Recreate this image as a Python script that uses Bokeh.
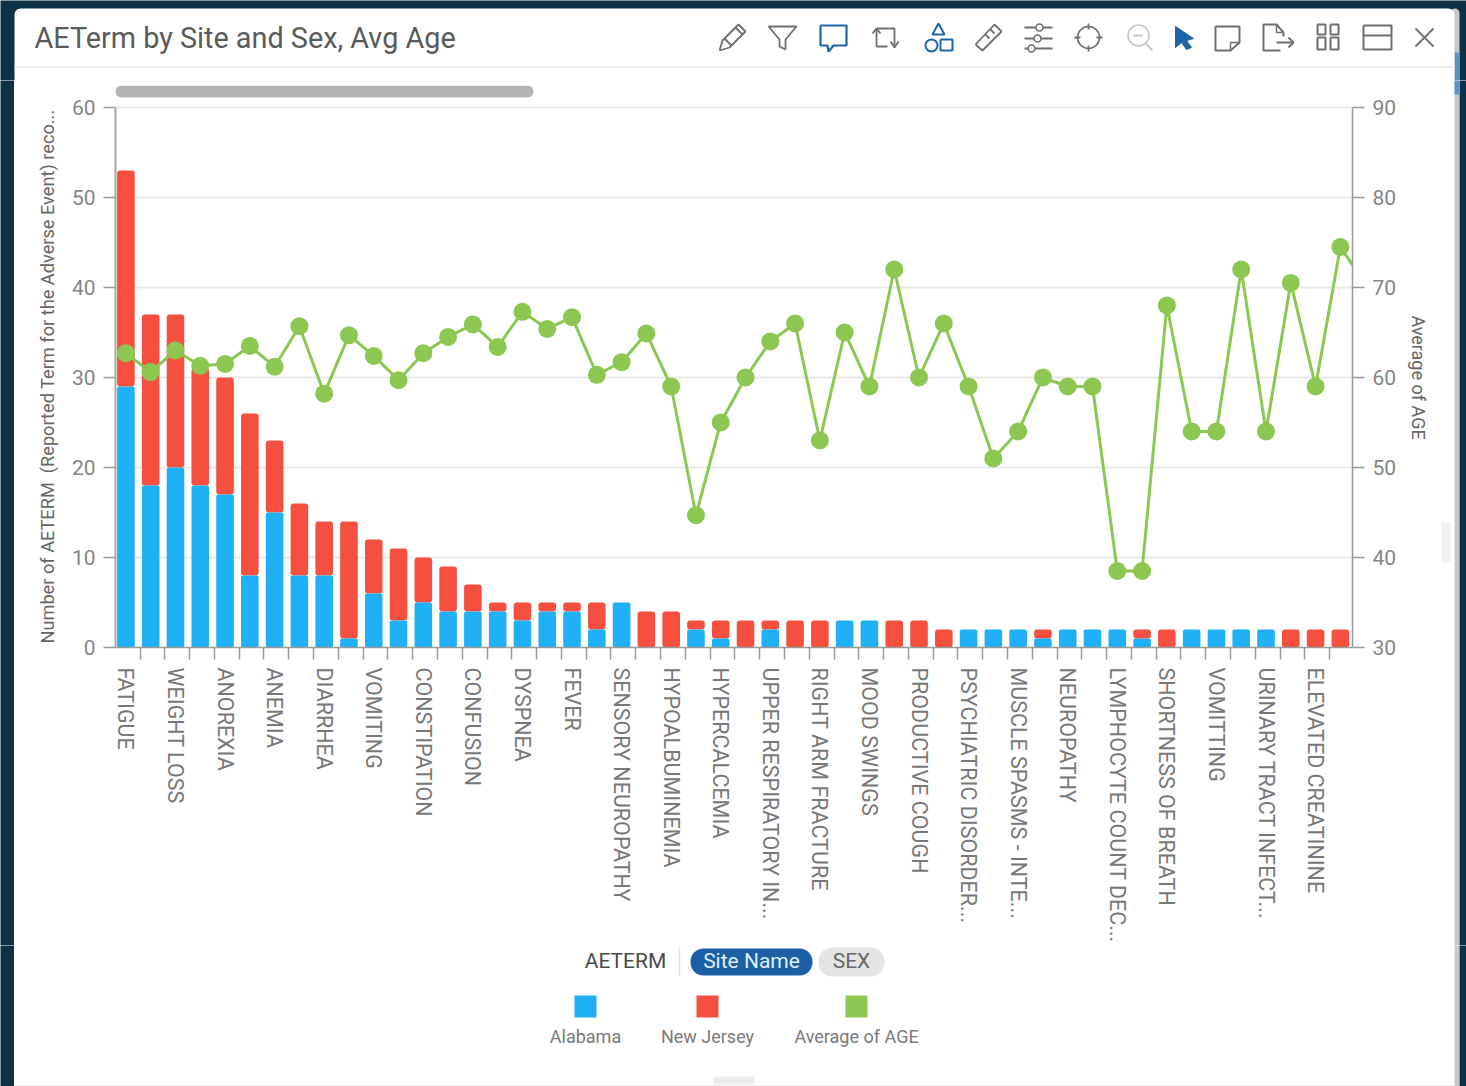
from bokeh.plotting import figure
from bokeh.layouts import column, row
from bokeh.models import Range1d, LinearAxis, FixedTicker
from bokeh.core.properties import value
from bokeh.embed import file_html
from bokeh.resources import INLINE

# ---- data ----
tick_labels = ["FATIGUE", "WEIGHT LOSS", "ANOREXIA", "ANEMIA", "DIARRHEA", "VOMITING", "CONSTIPATION",
               "CONFUSION", "DYSPNEA", "FEVER", "SENSORY NEUROPATHY", "HYPOALBUMINEMIA", "HYPERCALCEMIA",
               "UPPER RESPIRATORY IN...", "RIGHT ARM FRACTURE", "MOOD SWINGS", "PRODUCTIVE COUGH",
               "PSYCHIATRIC DISORDER...", "MUSCLE SPASMS - INTE...", "NEUROPATHY", "LYMPHOCYTE COUNT DEC...",
               "SHORTNESS OF BREATH", "VOMITTING", "URINARY TRACT INFECT...", "ELEVATED CREATININE"]
alabama = [29, 18, 20, 18, 17, 8, 15, 8, 8, 1, 6, 3, 5, 4, 4, 4, 3, 4, 4, 2, 5, 0, 0, 2, 1,
           0, 2, 0, 0, 3, 3, 0, 0, 0, 2, 2, 2, 1, 2, 2, 2, 1, 0, 2, 2, 2, 2, 0, 0, 0]
new_jersey = [24, 19, 17, 13, 13, 18, 8, 8, 6, 13, 6, 8, 5, 5, 3, 1, 2, 1, 1, 3, 0, 4, 4, 1, 2,
              3, 1, 3, 3, 0, 0, 3, 3, 2, 0, 0, 0, 1, 0, 0, 0, 1, 2, 0, 0, 0, 0, 2, 2, 2]
avg_age = [62.7, 60.6, 63.0, 61.3, 61.5, 63.5, 61.2, 65.7, 58.2, 64.7, 62.4, 59.7, 62.7, 64.5, 65.9,
           63.4, 67.3, 65.4, 66.7, 60.3, 61.7, 64.9, 59.0, 44.7, 55.0, 60.0, 64.0, 66.0, 53.0, 65.0,
           59.0, 72.0, 60.0, 66.0, 59.0, 51.0, 54.0, 60.0, 59.0, 59.0, 38.5, 38.5, 68.0, 54.0, 54.0,
           72.0, 54.0, 70.5, 59.0, 74.5, 70.4]
left_ticks = [0, 10, 20, 30, 40, 50, 60]
right_ticks = [30, 40, 50, 60, 70, 80, 90]
left_title = "Number of AETERM\u00a0 (Reported Term for the Adverse Event) reco..."
right_title = "Average of AGE"

BLUE, RED, GREEN = "#1fb0f5", "#f44f3f", "#8cc751"
DARK = "#0c3247"
STRIP = "#c9c9c9"
FONT = value("Roboto")


def chrome(x0, x1, y0, y1, bg=DARK):
    f = figure(width=x1 - x0, height=y1 - y0, x_range=Range1d(x0, x1), y_range=Range1d(y1, y0),
               output_backend="svg", toolbar_location=None, min_border=0, frame_align=False,
               background_fill_color=bg, border_fill_color=bg, outline_line_color=None)
    f.axis.visible = False
    f.grid.visible = False
    return f


# ---- header ----
TOP = 80
h = chrome(0, 1466, 0, TOP)
h.quad(left=[1450], right=[1459], top=[8], bottom=[TOP + 4], fill_color=STRIP, line_color=None,
       border_radius=(6, 6, 0, 0))
h.quad(left=[1454], right=[1459], top=[52], bottom=[TOP + 4], fill_color="#5b93c7", line_color=None)
h.quad(left=[14], right=[1454], top=[8], bottom=[TOP + 4], fill_color="white", line_color=None,
       border_radius=(6, 6, 0, 0))
h.segment(x0=[14], x1=[1454], y0=[66.5], y1=[66.5], line_color="#e6e6e6", line_width=1.5)
h.text(x=[34], y=[37], text=["AETerm by Site and Sex, Avg Age"], text_font=FONT, text_font_size="28.8px",
       text_color="#5a5a5a", text_align="left", text_baseline="middle")

GR, BL, LG = "#6e6e6e", "#1c66a8", "#c8c8c8"


def icon(cx, pts, color=GR, w=1.8):
    h.line([cx + q[0] for q in pts], [37 + q[1] for q in pts], line_color=color, line_width=w)


def dot(cx, dy, size, color=GR, fill=None, w=1.6, dx=0):
    h.scatter([cx + dx], [37 + dy], size=size, marker="circle", fill_color=fill or "white",
              line_color=color, line_width=w)


# pencil
icon(732, [(-13, 13), (-10, 3), (6, -13), (13, -6), (-3, 10), (-13, 13)])
icon(732, [(-8, 1), (-1, 8)]); icon(732, [(3, -10), (10, -3)])
# funnel
icon(782, [(-14, -11), (14, -11), (3, 2), (3, 12), (-3, 9), (-3, 2), (-14, -11)])
# comment
icon(833, [(-13, -12), (13, -12), (13, 8), (0, 8), (-5, 14), (-6, 8), (-13, 8), (-13, -12)], BL, 2.2)
# swap arrows
icon(885, [(-9, 9), (-9, -9), (4, -9)]); icon(885, [(-13, -4), (-9, -9), (-5, -4)])
icon(885, [(4, -9), (9, -9), (9, 8)]); icon(885, [(5, 4), (9, 10), (13, 4)])
icon(885, [(-9, 9), (2, 9)])
# shapes
icon(938, [(0, -14), (6, -3), (-6, -3), (0, -14)], BL, 2)
dot(938, 8, 12, BL, w=2, dx=-7)
icon(938, [(2, 2), (14, 2), (14, 13), (2, 13), (2, 2)], BL, 2)
# ruler
icon(988, [(-13, 7), (6, -13), (13, -6), (-6, 13), (-13, 7)])
icon(988, [(-3, -3), (1, 1)]); icon(988, [(2, -8), (6, -4)])
# sliders
for dy, dx in [(-10, 1), (1, -1), (11, -7)]:
    icon(1038, [(-14, dy), (14, dy)])
    dot(1038, dy, 7, dx=dx)
# crosshair
dot(1088, 0, 22)
icon(1088, [(0, -14), (0, -8)]); icon(1088, [(0, 8), (0, 14)])
icon(1088, [(-14, 0), (-8, 0)]); icon(1088, [(8, 0), (14, 0)])
# zoom out
dot(1138, -2, 21, LG)
icon(1138, [(-5, -2), (4, -2)], LG); icon(1138, [(7, 6), (14, 13)], LG)
# cursor
h.patch([1175, 1193, 1186, 1191, 1186, 1181, 1175], [26, 38, 40, 47, 49, 42, 47], fill_color=BL, line_color=BL)
# note
icon(1227, [(-12, -11), (12, -11), (12, 5), (3, 13), (-12, 13), (-12, -11)], GR, 2)
icon(1227, [(3, 13), (3, 5), (12, 5)], GR, 1.5)
# export
icon(1277, [(3, 13), (-14, 13), (-14, -13), (-1, -13), (6, -5), (6, -1)], GR, 2)
icon(1277, [(-1, -13), (-1, -5), (6, -5)], GR, 1.5)
icon(1277, [(-1, 5), (16, 5)]); icon(1277, [(11, 0), (16, 5), (11, 10)])
# grid
for cx2, cy2, ww, hh in [(-7, -8, 4, 5), (6, -8, 4, 5), (-7, 6, 4, 6), (6, 6, 4, 6)]:
    icon(1328, [(cx2 - ww, cy2 - hh), (cx2 + ww, cy2 - hh), (cx2 + ww, cy2 + hh), (cx2 - ww, cy2 + hh), (cx2 - ww, cy2 - hh)], GR, 2)
# window
icon(1377, [(-14, -12), (14, -12), (14, 12), (-14, 12), (-14, -12)], GR, 2)
icon(1377, [(-14, -2), (14, -2)], GR, 2)
# close
icon(1424, [(-9, -9), (9, 9)]); icon(1424, [(9, -9), (-9, 9)])

# ---- side pieces next to the chart ----
MID = 945
sl0 = chrome(0, 14, TOP, MID)
sl1 = chrome(14, 60, TOP, MID, bg="white")
sl1.text(x=[47], y=[376], text=[left_title], angle=[1.5708], text_font=FONT, text_font_size="18.2px",
         text_color="#666666", text_align="center", text_baseline="middle")
sr1 = chrome(1405, 1454, TOP, MID, bg="white")
sr1.text(x=[1418], y=[377], text=[right_title], angle=[-1.5708], text_font=FONT, text_font_size="18px",
         text_color="#666666", text_align="center", text_baseline="middle")
sr1.quad(left=[1441], right=[1450], top=[522], bottom=[562], fill_color="#f1f1f1", line_color=None)
sr2 = chrome(1454, 1459, TOP, MID, bg=STRIP)
sr2.quad(left=[1450], right=[1462], top=[TOP - 4], bottom=[94], fill_color="#5b93c7", line_color=None)
sr3 = chrome(1459, 1466, TOP, MID)

# ---- main chart ----
xs = list(range(len(alabama)))
label_idx = list(range(0, len(alabama), 2))
p = figure(width=1345, height=MID - TOP, x_range=Range1d(-0.42, 49.49), y_range=Range1d(0, 62.44),
           output_backend="svg", toolbar_location=None, outline_line_color=None, frame_align=False,
           min_border_left=55, min_border_right=53, min_border_top=5, min_border_bottom=297,
           background_fill_color="white", border_fill_color="white")
p.extra_y_ranges = {"age": Range1d(30, 92.44), "py": Range1d(648, 85)}
p.extra_x_ranges = {"px": Range1d(115, 1352)}

p.xgrid.visible = False
p.ygrid.grid_line_color = "#e9e9e9"
p.ygrid.grid_line_width = 2
p.ygrid.ticker = FixedTicker(ticks=left_ticks)

# chart scrollbar, placed in page pixels
p.quad(left=[115], right=[533], top=[85], bottom=[97], fill_color="#b4b4b4", line_color=None, border_radius=6,
       x_range_name="px", y_range_name="py")

bar_w = 0.71
tops_blue = alabama
tops_all = [a + b for a, b in zip(alabama, new_jersey)]
p.vbar(x=xs, bottom=tops_blue, top=tops_all, width=bar_w, fill_color=RED, line_color=None, border_radius=3)
p.vbar(x=xs, bottom=[0] * len(xs), top=tops_blue, width=bar_w, fill_color=BLUE, line_color=None, border_radius=2)

xl = list(range(len(avg_age)))
p.line(xl, avg_age, y_range_name="age", line_color=GREEN, line_width=3)
p.scatter(xl, avg_age, y_range_name="age", size=18, marker="circle", fill_color=GREEN, line_color=None)

xa = p.xaxis[0]
xa.ticker = FixedTicker(ticks=label_idx, minor_ticks=[i + 0.57 for i in range(49)])
xa.major_label_overrides = {i: t for i, t in zip(label_idx, tick_labels)}
xa.major_label_orientation = -1.5708
xa.major_tick_out = 0
xa.major_tick_in = 0
xa.minor_tick_out = 12
xa.minor_tick_in = 0
xa.minor_tick_line_color = "#9a9a9a"
xa.minor_tick_line_width = 1.5
xa.axis_line_color = "#9a9a9a"
xa.axis_line_width = 1.5
xa.major_label_standoff = 8
xa.major_label_text_font = "Roboto"
xa.major_label_text_font_size = "21.5px"
xa.major_label_text_color = "#777777"

ya = p.yaxis[0]
ya.ticker = FixedTicker(ticks=left_ticks)
ya.bounds = (0, 60)
ya.major_tick_out = 12
ya.major_tick_in = 0
ya.minor_tick_out = 0
ya.minor_tick_in = 0
ya.major_tick_line_color = "#9a9a9a"
ya.major_tick_line_width = 1.5
ya.axis_line_color = "#a8a8a8"
ya.axis_line_width = 2
ya.major_label_standoff = 8
ya.major_label_text_font = "Roboto"
ya.major_label_text_font_size = "21px"
ya.major_label_text_color = "#858585"

ra = LinearAxis(y_range_name="age", ticker=FixedTicker(ticks=right_ticks), bounds=(30, 90))
ra.major_tick_out = 12
ra.major_tick_in = 0
ra.minor_tick_out = 0
ra.minor_tick_in = 0
ra.major_tick_line_color = "#9a9a9a"
ra.major_tick_line_width = 1.5
ra.axis_line_color = "#9a9a9a"
ra.axis_line_width = 1.5
ra.major_label_standoff = 8
ra.major_label_text_font = "Roboto"
ra.major_label_text_font_size = "21px"
ra.major_label_text_color = "#858585"
p.add_layout(ra, "right")

# ---- legend ----
g0 = chrome(0, 14, MID, 1086)
g = chrome(14, 1454, MID, 1086, bg="white")
g2 = chrome(1454, 1459, MID, 1086, bg=STRIP)
g3 = chrome(1459, 1466, MID, 1086)
g.segment(x0=[14], x1=[1454], y0=[1085.5], y1=[1085.5], line_color="#dddddd", line_width=1)
g.text(x=[625], y=[960], text=["AETERM"], text_font=FONT, text_font_size="21px", text_color="#4a4a4a",
       text_align="center", text_baseline="middle")
g.segment(x0=[679], x1=[679], y0=[947], y1=[975], line_color="#e2e2e2", line_width=1.5)
g.quad(left=[690], right=[812], top=[948], bottom=[975], fill_color="#1c5fa5", line_color=None, border_radius=13)
g.quad(left=[818], right=[884], top=[947], bottom=[976], fill_color="#e4e4e4", line_color=None, border_radius=14)
g.text(x=[751], y=[960], text=["Site Name"], text_font=FONT, text_font_size="21px", text_color="#dff0fb",
       text_align="center", text_baseline="middle")
g.text(x=[851], y=[960], text=["SEX"], text_font=FONT, text_font_size="21px", text_color="#666666",
       text_align="center", text_baseline="middle")
legend_names = ["Alabama", "New Jersey", "Average of AGE"]
legend_colors = [BLUE, RED, GREEN]
legend_x = [585, 707, 856]
g.quad(left=[x - 11 for x in legend_x], right=[x + 11 for x in legend_x], top=[995] * 3, bottom=[1017] * 3,
       fill_color=legend_colors, line_color=None)
g.text(x=legend_x, y=[1036] * 3, text=legend_names, text_font=FONT, text_font_size="18px", text_color="#7a7a7a",
       text_align="center", text_baseline="middle")
g.quad(left=[713], right=[754], top=[1076], bottom=[1084], fill_color="#ececec", line_color=None, border_radius=2)

page = column(h, row(sl0, sl1, p, sr1, sr2, sr3, spacing=0), row(g0, g, g2, g3, spacing=0), spacing=0)
open("out.html", "w").write(file_html(page, INLINE))
